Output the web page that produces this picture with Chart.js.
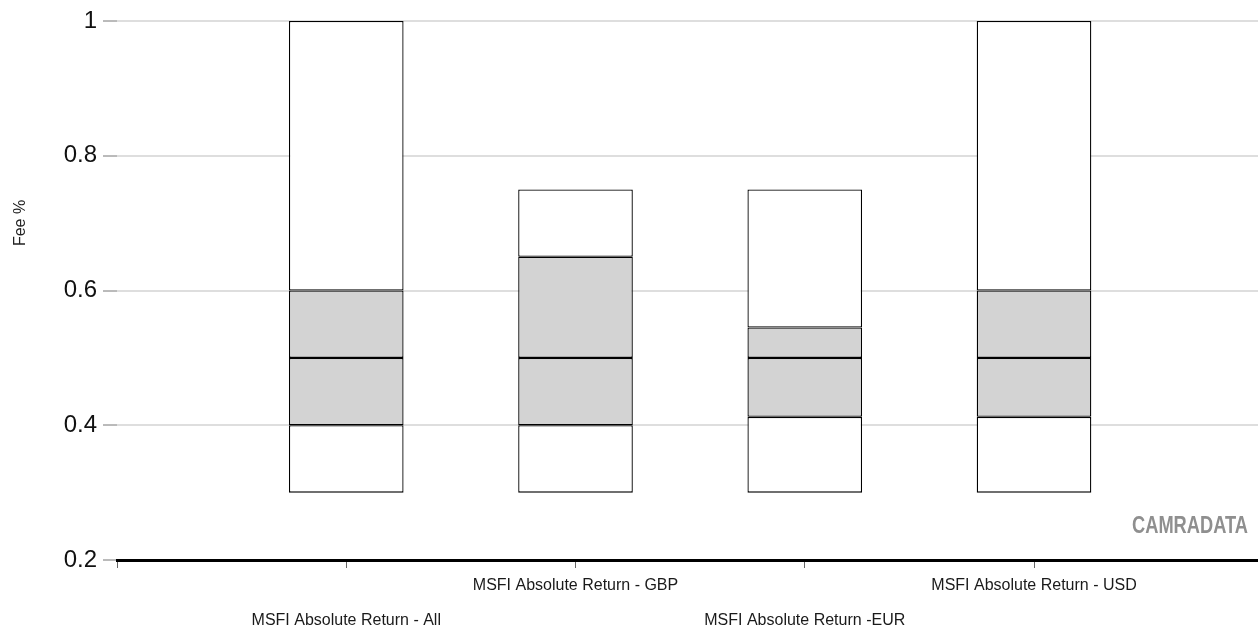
<!DOCTYPE html>
<html>
<head>
<meta charset="utf-8">
<script src="https://cdn.jsdelivr.net/npm/chart.js@4/dist/chart.umd.min.js"></script>
<style>
  body { margin: 0; background: #fff; }
  #wrap { width: 1258px; height: 636px; }
</style>
</head>
<body>
<div id="wrap"><canvas id="feeChart"></canvas></div>
<script>
// fee ranges per universe
const categories = [
  "MSFI Absolute Return - All",
  "MSFI Absolute Return - GBP",
  "MSFI Absolute Return -EUR",
  "MSFI Absolute Return - USD",
];
const minFee = [0.3, 0.3, 0.3, 0.3];
const lowerQuartile = [0.4, 0.4, 0.4125, 0.4125];
const medianFee = [0.5, 0.5, 0.5, 0.5];
const upperQuartile = [0.6, 0.65, 0.545, 0.6];
const maxFee = [1.0, 0.75, 0.75, 1.0];

const narrowFont = "'Liberation Sans Narrow', 'Arial Narrow', 'Liberation Sans', sans-serif";
const plainFont = "'Liberation Sans', Arial, sans-serif";

// one floating bar segment per category, x = 1..4
const segment = (lows, highs, fill) => ({
  data: categories.map((c, i) => ({ x: i + 1, y: [lows[i], highs[i]] })),
  backgroundColor: fill,
  borderColor: "#000",
  borderWidth: 1.3,
  borderSkipped: false,
  grouped: false,
  categoryPercentage: 1,
  barPercentage: 0.5,
});

const extras = {
  id: "extras",
  afterDraw: function (chart) {
    const ctx = chart.ctx;
    ctx.save();
    // y axis title
    ctx.translate(21, 223);
    ctx.rotate(-Math.PI / 2);
    ctx.font = "16px " + plainFont;
    ctx.fillStyle = "#222";
    ctx.textAlign = "center";
    ctx.textBaseline = "middle";
    ctx.fillText("Fee %", 0, 0);
    ctx.restore();

    // watermark
    ctx.save();
    ctx.font = "bold 24px " + narrowFont;
    ctx.fillStyle = "#8f8f8f";
    ctx.textAlign = "right";
    ctx.textBaseline = "alphabetic";
    ctx.fillText("CAMRADATA", chart.chartArea.right - 10, 533, 116);
    ctx.restore();
  },
};

new Chart(document.getElementById("feeChart"), {
  type: "bar",
  data: {
    datasets: [
      segment(minFee, lowerQuartile, "#ffffff"),
      segment(lowerQuartile, medianFee, "#d3d3d3"),
      segment(medianFee, upperQuartile, "#d3d3d3"),
      segment(upperQuartile, maxFee, "#ffffff"),
    ],
  },
  options: {
    responsive: true,
    maintainAspectRatio: false,
    animation: false,
    layout: { padding: { top: 21, right: 0, left: 0, bottom: 0 } },
    plugins: {
      legend: { display: false },
      tooltip: { enabled: false },
    },
    scales: {
      x: {
        type: "linear",
        position: "bottom",
        offset: false,
        min: 0,
        max: 4.977,
        afterBuildTicks: (scale) => {
          scale.ticks = [0, 1, 2, 3, 4].map((v) => ({ value: v }));
        },
        afterFit: (scale) => {
          scale.height = 76;
        },
        ticks: {
          autoSkip: false,
          maxRotation: 0,
          padding: 0,
          color: "#1a1a1a",
          font: { family: narrowFont, size: 16, lineHeight: "35px" },
          callback: (v) => {
            const label = categories[v - 1];
            if (!label) return "";
            // alternate labels between two rows
            return v % 2 === 0 ? [label] : ["", label];
          },
        },
        grid: {
          offset: false,
          drawOnChartArea: false,
          drawTicks: true,
          tickLength: 8,
          tickColor: "#666",
          tickWidth: 1,
        },
        border: { display: true, color: "#000", width: 3 },
      },
      y: {
        min: 0.2,
        max: 1,
        afterFit: (scale) => {
          scale.width = 117;
        },
        ticks: {
          stepSize: 0.2,
          padding: 6,
          color: "#111",
          font: { family: plainFont, size: 24 },
          callback: (v) => String(Math.round(v * 10) / 10),
        },
        grid: {
          color: "#dedede",
          lineWidth: 2,
          drawTicks: true,
          tickLength: 14,
          tickColor: "#777",
          tickWidth: 1,
        },
        border: { display: false },
      },
    },
  },
  plugins: [extras],
});
</script>
</body>
</html>
